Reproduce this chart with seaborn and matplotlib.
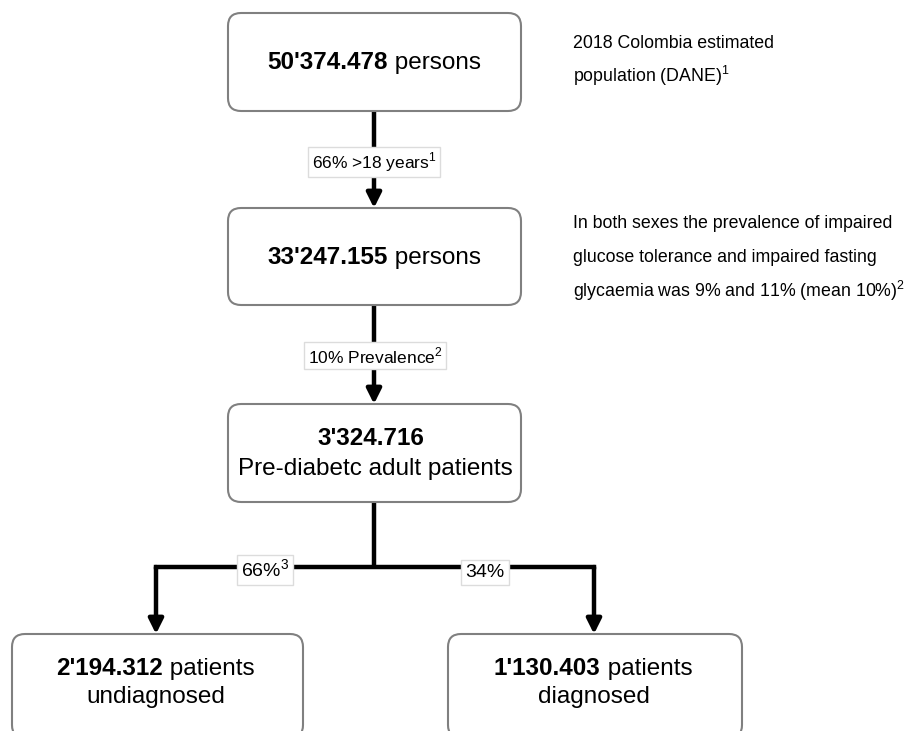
import matplotlib
matplotlib.use("Agg")
import matplotlib.pyplot as plt
import seaborn as sns
from matplotlib.patches import FancyBboxPatch

sns.set_theme(style="white")
plt.rcParams['font.family'] = ['Liberation Sans', 'DejaVu Sans']
plt.rcParams['mathtext.fontset'] = 'custom'
plt.rcParams['mathtext.rm'] = 'Liberation Sans'
plt.rcParams['text.color'] = 'black'

# ---- data ----
box_numbers = ["50'374.478", "33'247.155", "3'324.716", "2'194.312", "1'130.403"]
box_texts = ["persons", "persons", "Pre-diabetc adult patients", "patients\nundiagnosed", "patients\ndiagnosed"]
edge_labels = ["66% >18 years$^{1}$", "10% Prevalence$^{2}$", "66%$^{3}$", "34%"]
notes = [["2018 Colombia estimated", "population (DANE)$^{1}$"],
         ["In both sexes the prevalence of impaired",
          "glucose tolerance and impaired fasting",
          "glycaemia was 9% and 11% (mean 10%)$^{2}$"]]

W, H = 919, 731
fig = plt.figure(figsize=(W / 100, H / 100), dpi=100)
ax = fig.add_axes([0, 0, 1, 1])
ax.set_xlim(0, W)
ax.set_ylim(H, 0)
ax.axis("off")
sns.despine(ax=ax, left=True, bottom=True)

# box geometry (x0, y0, w, h)
boxes = [(228, 13, 293, 98), (228, 208, 293, 97), (228, 404, 293, 98),
         (12, 634, 291, 104), (448, 634, 294, 104)]
edge = "#808080"
rad = 13
for (x0, y0, w, h) in boxes:
    p = FancyBboxPatch((x0 + rad, y0 + rad), w - 2 * rad, h - 2 * rad,
                       boxstyle="round,pad=%d" % rad, fc="white", ec=edge, lw=1.5, zorder=2)
    ax.add_patch(p)

fig.canvas.draw()
r = fig.canvas.get_renderer()

def mixed(cx, by, bold, normal, size):
    t1 = ax.text(0, by, bold, fontsize=size, fontweight="bold", va="baseline", ha="left", zorder=5)
    t2 = ax.text(0, by, " " + normal, fontsize=size, va="baseline", ha="left", zorder=5)
    w1 = t1.get_window_extent(r).width
    w2 = t2.get_window_extent(r).width
    x0 = cx - (w1 + w2) / 2
    t1.set_x(x0)
    t2.set_x(x0 + w1)

fs = 17.5
mixed(374, 69, box_numbers[0], box_texts[0], fs)
mixed(374, 264, box_numbers[1], box_texts[1], fs)
ax.text(371, 445, box_numbers[2], fontsize=fs, fontweight="bold", ha="center", va="baseline")
ax.text(375, 475, box_texts[2], fontsize=fs, ha="center", va="baseline")
b3 = box_texts[3].split("\n")
mixed(155, 675, box_numbers[3], b3[0], fs)
ax.text(156, 703, b3[1], fontsize=fs, ha="center", va="baseline")
b4 = box_texts[4].split("\n")
mixed(593, 675, box_numbers[4], b4[0], fs)
ax.text(594, 703, b4[1], fontsize=fs, ha="center", va="baseline")

# connectors
lw = 3.2
ap = dict(arrowstyle="-|>", lw=lw, color="black", mutation_scale=22, shrinkA=0, shrinkB=0)
xm = 374
ax.annotate("", xy=(xm, 208), xytext=(xm, 111), arrowprops=ap, zorder=1)
ax.annotate("", xy=(xm, 404), xytext=(xm, 305), arrowprops=ap, zorder=1)
ax.plot([xm, xm], [502, 567], color="black", lw=lw, solid_capstyle="butt", zorder=1)
ax.plot([156, 594], [567, 567], color="black", lw=lw, solid_capstyle="projecting", zorder=1)
ax.annotate("", xy=(156, 634), xytext=(156, 567), arrowprops=ap, zorder=1)
ax.annotate("", xy=(594, 634), xytext=(594, 567), arrowprops=ap, zorder=1)

lab_box = dict(boxstyle="square,pad=0.2", fc="white", ec="#dcdcdc", lw=1)
ax.text(374, 168, edge_labels[0], fontsize=12.5, ha="center", va="baseline", bbox=lab_box, zorder=6)
ax.text(375, 363, edge_labels[1], fontsize=12.5, ha="center", va="baseline", bbox=lab_box, zorder=6)
ax.text(265, 577, edge_labels[2], fontsize=14, ha="center", va="baseline", bbox=lab_box, zorder=6)
ax.text(485, 577, edge_labels[3], fontsize=14, ha="center", va="baseline", bbox=lab_box, zorder=6)

# notes
nfs = 12.8
for i, line in enumerate(notes[0]):
    ax.text(573, 48 + i * 34, line, fontsize=nfs, ha="left", va="baseline")
for i, line in enumerate(notes[1]):
    ax.text(573, 228 + i * 34.5, line, fontsize=nfs, ha="left", va="baseline")

fig.savefig("out.png", dpi=100, facecolor="white")
